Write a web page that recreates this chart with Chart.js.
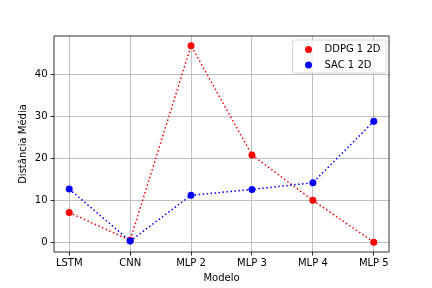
<!DOCTYPE html>
<html>
<head>
<meta charset="utf-8">
<script src="https://cdn.jsdelivr.net/npm/chart.js@4/dist/chart.umd.min.js"></script>
<style>
html,body{margin:0;padding:0;background:#fff;}
#wrap{width:432px;height:288px;}
</style>
</head>
<body>
<div id="wrap"><canvas id="c" width="432" height="288"></canvas></div>
<script>
const categories = ["LSTM", "CNN", "MLP 2", "MLP 3", "MLP 4", "MLP 5"];
const ddpgValues = [7.1, 0.5, 46.8, 20.8, 10.0, 0.05];
const sacValues = [12.7, 0.3, 11.2, 12.6, 14.2, 28.8];
const yTicks = [0, 10, 20, 30, 40];
const seriesNames = ["DDPG 1 2D", "SAC 1 2D"];

const FONT = "'DejaVu Sans', sans-serif";
const toPts = arr => arr.map((v, i) => ({x: i, y: v}));

const frameLegend = {
  id: 'frameLegend',
  afterDatasetsDraw(chart) {
    const {ctx, chartArea: a} = chart;
    ctx.save();
    ctx.strokeStyle = '#000';
    ctx.lineWidth = 0.8;
    ctx.strokeRect(a.left, a.top, a.right - a.left, a.bottom - a.top);
    // legend
    const x0 = a.right - 96.5, y0 = a.top + 4, w = 93.5, h = 33, r = 2;
    ctx.globalAlpha = 0.8;
    ctx.fillStyle = '#fff';
    ctx.beginPath();
    ctx.roundRect(x0, y0, w, h, r);
    ctx.fill();
    ctx.globalAlpha = 1;
    ctx.strokeStyle = '#cccccc';
    ctx.lineWidth = 0.8;
    ctx.stroke();
    const colors = ['#ff0000', '#0000ff'];
    ctx.font = '10px ' + FONT;
    ctx.textBaseline = 'middle';
    for (let i = 0; i < 2; i++) {
      const cy = y0 + 9.5 + i * 15.5;
      ctx.fillStyle = colors[i];
      ctx.beginPath();
      ctx.arc(x0 + 16, cy, 3.5, 0, Math.PI * 2);
      ctx.fill();
      ctx.fillStyle = '#000';
      ctx.fillText(seriesNames[i], x0 + 32, cy);
    }
    ctx.restore();
  }
};

new Chart(document.getElementById('c'), {
  type: 'line',
  data: {
    datasets: [
      {label: seriesNames[0], data: toPts(ddpgValues), borderColor: '#ff0000', backgroundColor: '#ff0000',
       pointBackgroundColor: '#ff0000', pointBorderWidth: 0, pointRadius: 3.5, borderWidth: 1.5,
       borderDash: [1.5, 2.5], fill: false, tension: 0, order: 1},
      {label: seriesNames[1], data: toPts(sacValues), borderColor: '#0000ff', backgroundColor: '#0000ff',
       pointBackgroundColor: '#0000ff', pointBorderWidth: 0, pointRadius: 3.5, borderWidth: 1.5,
       borderDash: [1.5, 2.5], fill: false, tension: 0, order: 0}
    ]
  },
  options: {
    responsive: false,
    animation: false,
    events: [],
    layout: {padding: {left: 0, right: 43, top: 36, bottom: 0}},
    plugins: {legend: {display: false}, tooltip: {enabled: false}},
    scales: {
      x: {
        type: 'linear', min: -0.25, max: 5.25,
        afterBuildTicks: s => { s.ticks = categories.map((c, i) => ({value: i})); },
        afterFit: s => { s.height = 36; },
        ticks: {callback: v => categories[v], color: '#000', font: {family: FONT, size: 10}, padding: 2, maxRotation: 0, autoSkip: false},
        grid: {color: '#b0b0b0', lineWidth: 0.8, tickColor: '#000', tickLength: 3.5},
        border: {display: false},
        title: {display: true, text: 'Modelo', color: '#000', font: {family: FONT, size: 10}, padding: {top: 0, bottom: 4}}
      },
      y: {
        type: 'linear', min: -2.29, max: 49.1,
        afterBuildTicks: s => { s.ticks = yTicks.map(v => ({value: v})); },
        afterFit: s => { s.width = 54; },
        ticks: {color: '#000', font: {family: FONT, size: 10}, padding: 3},
        grid: {color: '#b0b0b0', lineWidth: 0.8, tickColor: '#000', tickLength: 3.5},
        border: {display: false},
        title: {display: true, text: 'Distância Média', color: '#000', font: {family: FONT, size: 10}, padding: {top: 17, bottom: 6}}
      }
    }
  },
  plugins: [frameLegend]
});
</script>
</body>
</html>
